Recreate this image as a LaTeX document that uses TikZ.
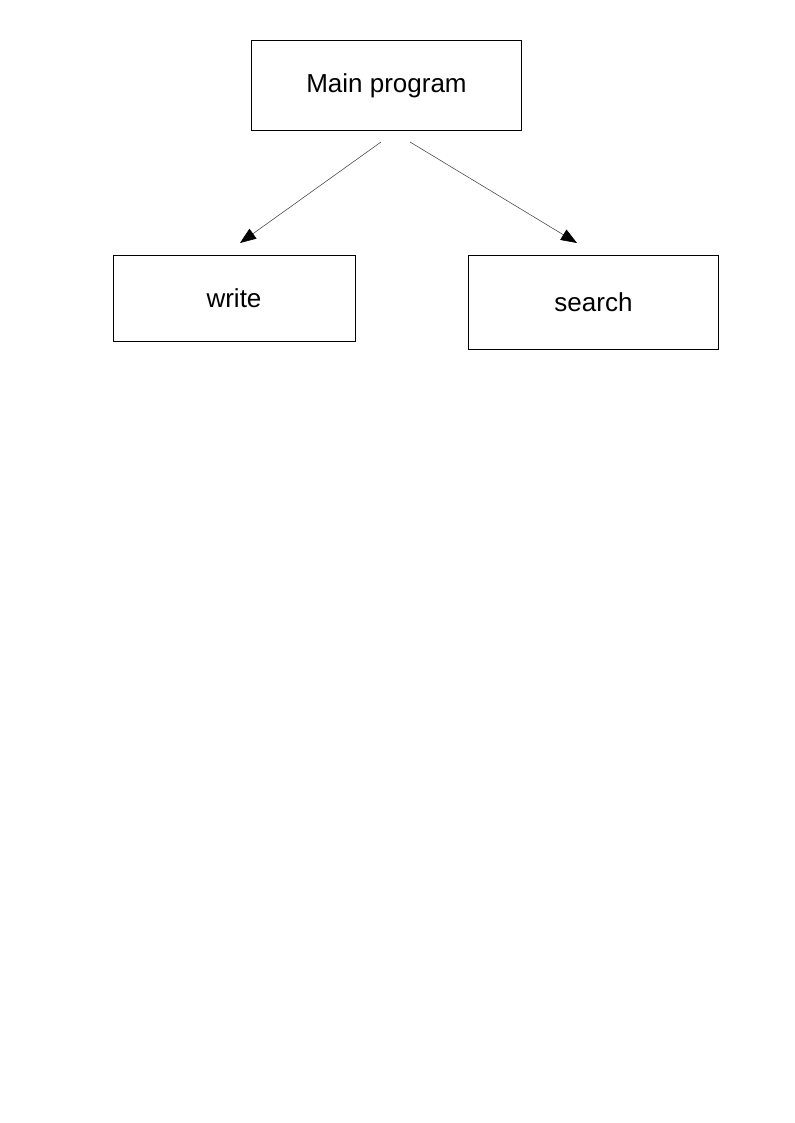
\documentclass[tikz,border=0pt]{standalone}
\usepackage{fontspec}
\setmainfont{Liberation Sans}
\usepackage{tikz}
\usetikzlibrary{arrows.meta}

\begin{document}
\begin{tikzpicture}[x=0.75pt, y=-0.75pt,
		box/.style={draw, line width=0.75pt, inner sep=0pt, font=\fontsize{19.5}{23}\selectfont},
		link/.style={-{Triangle[length=12pt, width=9pt, color=black]}, color=black!75, line width=0.4pt}]
			\useasboundingbox[fill=white] (0,0) rectangle (794,1123);
			\node[box, minimum width=203pt, minimum height=67pt] (main) at (386.5,85.5) {Main program};
			\node[box, minimum width=181.5pt, minimum height=64.5pt] (write) at (234,298) {write};
			\node[box, minimum width=188pt, minimum height=70.5pt] (search) at (593.5,302) {search};
			\coordinate (mainl) at (381,142);
			\coordinate (mainr) at (410,142);
			\coordinate (writein) at (240,243);
			\coordinate (searchin) at (577,243);
			\draw[link] (mainl) -- (writein);
			\draw[link] (mainr) -- (searchin);
		\end{tikzpicture}
\end{document}
